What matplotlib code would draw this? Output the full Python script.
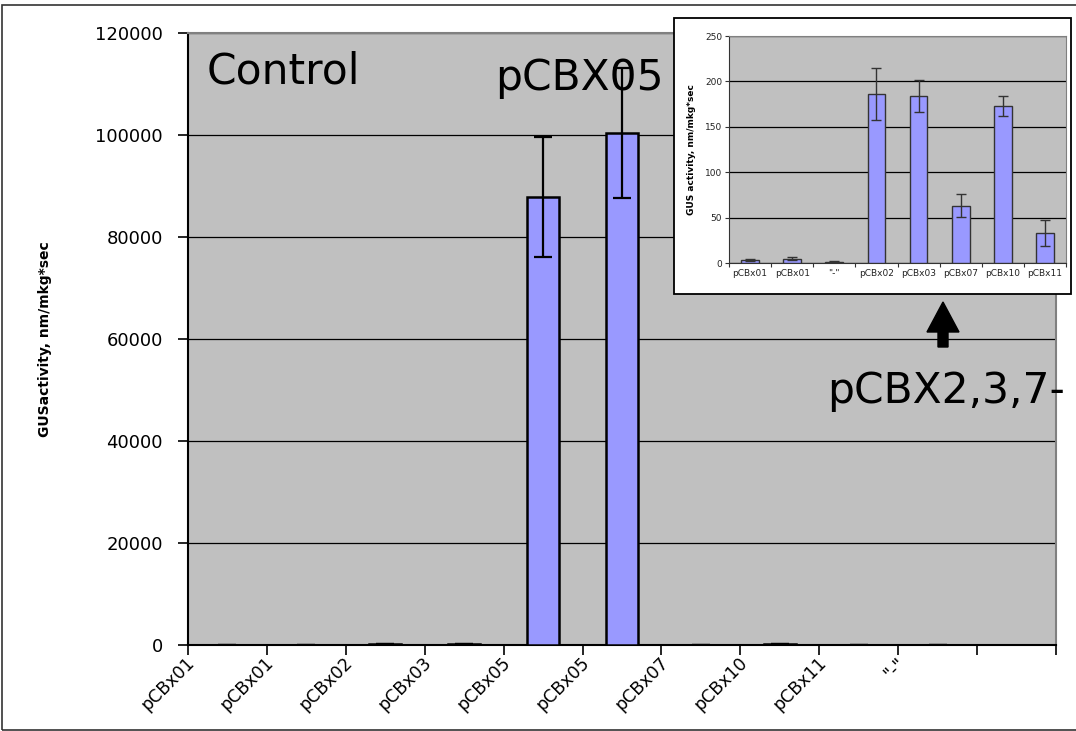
import numpy as np
import matplotlib
matplotlib.use('Agg')
import matplotlib.pyplot as plt
from matplotlib.patches import Rectangle, FancyArrow
from matplotlib.transforms import ScaledTranslation

# main chart data
labels = ['pCBx01', 'pCBx01', 'pCBx02', 'pCBx03', 'pCBx05', 'pCBx05',
          'pCBx07', 'pCBx10', 'pCBx11', '"-"']
values = [3.7, 4.8, 186, 184, 87900, 100400, 63, 173, 33, 1.5]
errors = [1.0, 1.3, 28.5, 18, 11800, 12700, 12.7, 10.6, 14.4, 0.3]
yticks = [0, 20000, 40000, 60000, 80000, 100000, 120000]

# inset data
ins_labels = ['pCBx01', 'pCBx01', '"-"', 'pCBx02', 'pCBx03', 'pCBx07', 'pCBx10', 'pCBx11']
ins_values = [3.7, 4.8, 1.5, 186, 184, 63, 173, 33]
ins_errors = [1.0, 1.3, 0.3, 28.5, 18, 12.7, 10.6, 14.4]
ins_yticks = [0, 50, 100, 150, 200, 250]

W, H = 1076, 731
fig = plt.figure(figsize=(W / 100, H / 100), dpi=100)

def px_box(x0, y0, x1, y1):
    # pixel box (top-left origin) -> figure fraction rect
    return [x0 / W, 1 - y1 / H, (x1 - x0) / W, (y1 - y0) / H]

# outer chart border
fig.add_artist(Rectangle((2 / W, 1 - 730 / H), 1.2, (730 - 5) / H, transform=fig.transFigure,
                         fill=False, edgecolor='#333333', lw=1.2, zorder=-1))

# ---- main axes ----
ax = fig.add_axes(px_box(188, 33, 1056, 645))
ax.set_facecolor('#C0C0C0')
x = np.arange(len(labels))
ax.bar(x, values, width=0.4, color='#9999FF', edgecolor='black', lw=1.8, zorder=3)
ax.errorbar(x, values, yerr=errors, fmt='none', ecolor='black', elinewidth=1.6,
            capsize=6.5, capthick=1.6, zorder=4)
ax.set_xlim(-0.5, len(labels) + 0.5)
ax.set_ylim(0, 120000)
ax.set_yticks(yticks)
ax.set_yticklabels([str(v) for v in yticks], fontsize=13)
ax.yaxis.grid(True, color='black', lw=0.9)
ax.set_axisbelow(True)
for s in ['top', 'right']:
    ax.spines[s].set_color('#808080')
    ax.spines[s].set_linewidth(1.5)
for s in ['left', 'bottom']:
    ax.spines[s].set_color('black')
    ax.spines[s].set_linewidth(1.5)
ax.tick_params(axis='y', length=7, width=1.2, pad=11)

bounds = np.arange(len(labels) + 2) - 0.5
ax.xaxis.remove_overlapping_locs = False
ax.set_xticks(bounds, minor=True)
ax.tick_params(axis='x', which='minor', length=7, width=1.2)
ax.set_xticks(bounds[:len(labels)])
ax.set_xticklabels(labels, rotation=45, ha='right', va='center', rotation_mode='anchor',
                   fontsize=12.5)
ax.tick_params(axis='x', which='major', length=0, pad=11)
for lab in ax.get_xticklabels():
    lab.set_transform(lab.get_transform() + ScaledTranslation(3 / 72, 0, fig.dpi_scale_trans))

ax.set_ylabel('GUSactivity, nm/mkg*sec', fontsize=10, fontweight='bold')
ax.yaxis.set_label_coords(-0.157, 0.5)

# big labels
big = dict(fontsize=30.5, family='DejaVu Sans', va='baseline')
fig.text(207 / W, 1 - 84 / H, 'Control', **big)
fig.text(495 / W, 1 - 90 / H, 'pCBX05', **big)
fig.text(827 / W, 1 - 403 / H, 'pCBX2,3,7-', **big)

fig.add_artist(FancyArrow(9.43, (H - 347) / 100, 0, 0.45, width=0.10, head_width=0.32,
                          head_length=0.30, length_includes_head=True, color='black',
                          transform=fig.dpi_scale_trans, zorder=2))

# ---- inset ----
fig.add_artist(Rectangle((674 / W, 1 - 294 / H), 397 / W, 276 / H, transform=fig.transFigure,
                         facecolor='white', edgecolor='black', lw=1.3, zorder=2))
ins = fig.add_axes(px_box(729, 36, 1066, 263), zorder=3)
ins.set_facecolor('#C0C0C0')
xi = np.arange(len(ins_labels))
ins.bar(xi, ins_values, width=0.42, color='#9999FF', edgecolor='#333333', lw=1.0, zorder=3)
ins.errorbar(xi, ins_values, yerr=ins_errors, fmt='none', ecolor='#333333', elinewidth=1.0,
             capsize=3.5, capthick=1.0, zorder=4)
ins.set_xlim(-0.5, len(ins_labels) - 0.5)
ins.set_ylim(0, 250)
ins.set_yticks(ins_yticks)
ins.set_yticklabels([str(v) for v in ins_yticks], fontsize=6.5, color='#222222')
ins.yaxis.grid(True, color='black', lw=0.9)
ins.set_axisbelow(True)
ins.set_xticks(xi)
ins.set_xticklabels(ins_labels, fontsize=6.5, color='#222222')
ins.set_xticks(np.arange(len(ins_labels) + 1) - 0.5, minor=True)
ins.tick_params(axis='x', which='major', length=0, pad=4)
ins.tick_params(axis='x', which='minor', length=3, width=0.8, color='#333333')
ins.tick_params(axis='y', length=3, width=0.8, color='#333333', pad=2)
for s in ['top', 'right']:
    ins.spines[s].set_color('#808080')
    ins.spines[s].set_linewidth(0.8)
for s in ['left', 'bottom']:
    ins.spines[s].set_color('#333333')
    ins.spines[s].set_linewidth(0.8)
ins.set_ylabel('GUS activity, nm/mkg*sec', fontsize=6.5, fontweight='bold', labelpad=6)

fig.savefig('out.png', dpi=100)
